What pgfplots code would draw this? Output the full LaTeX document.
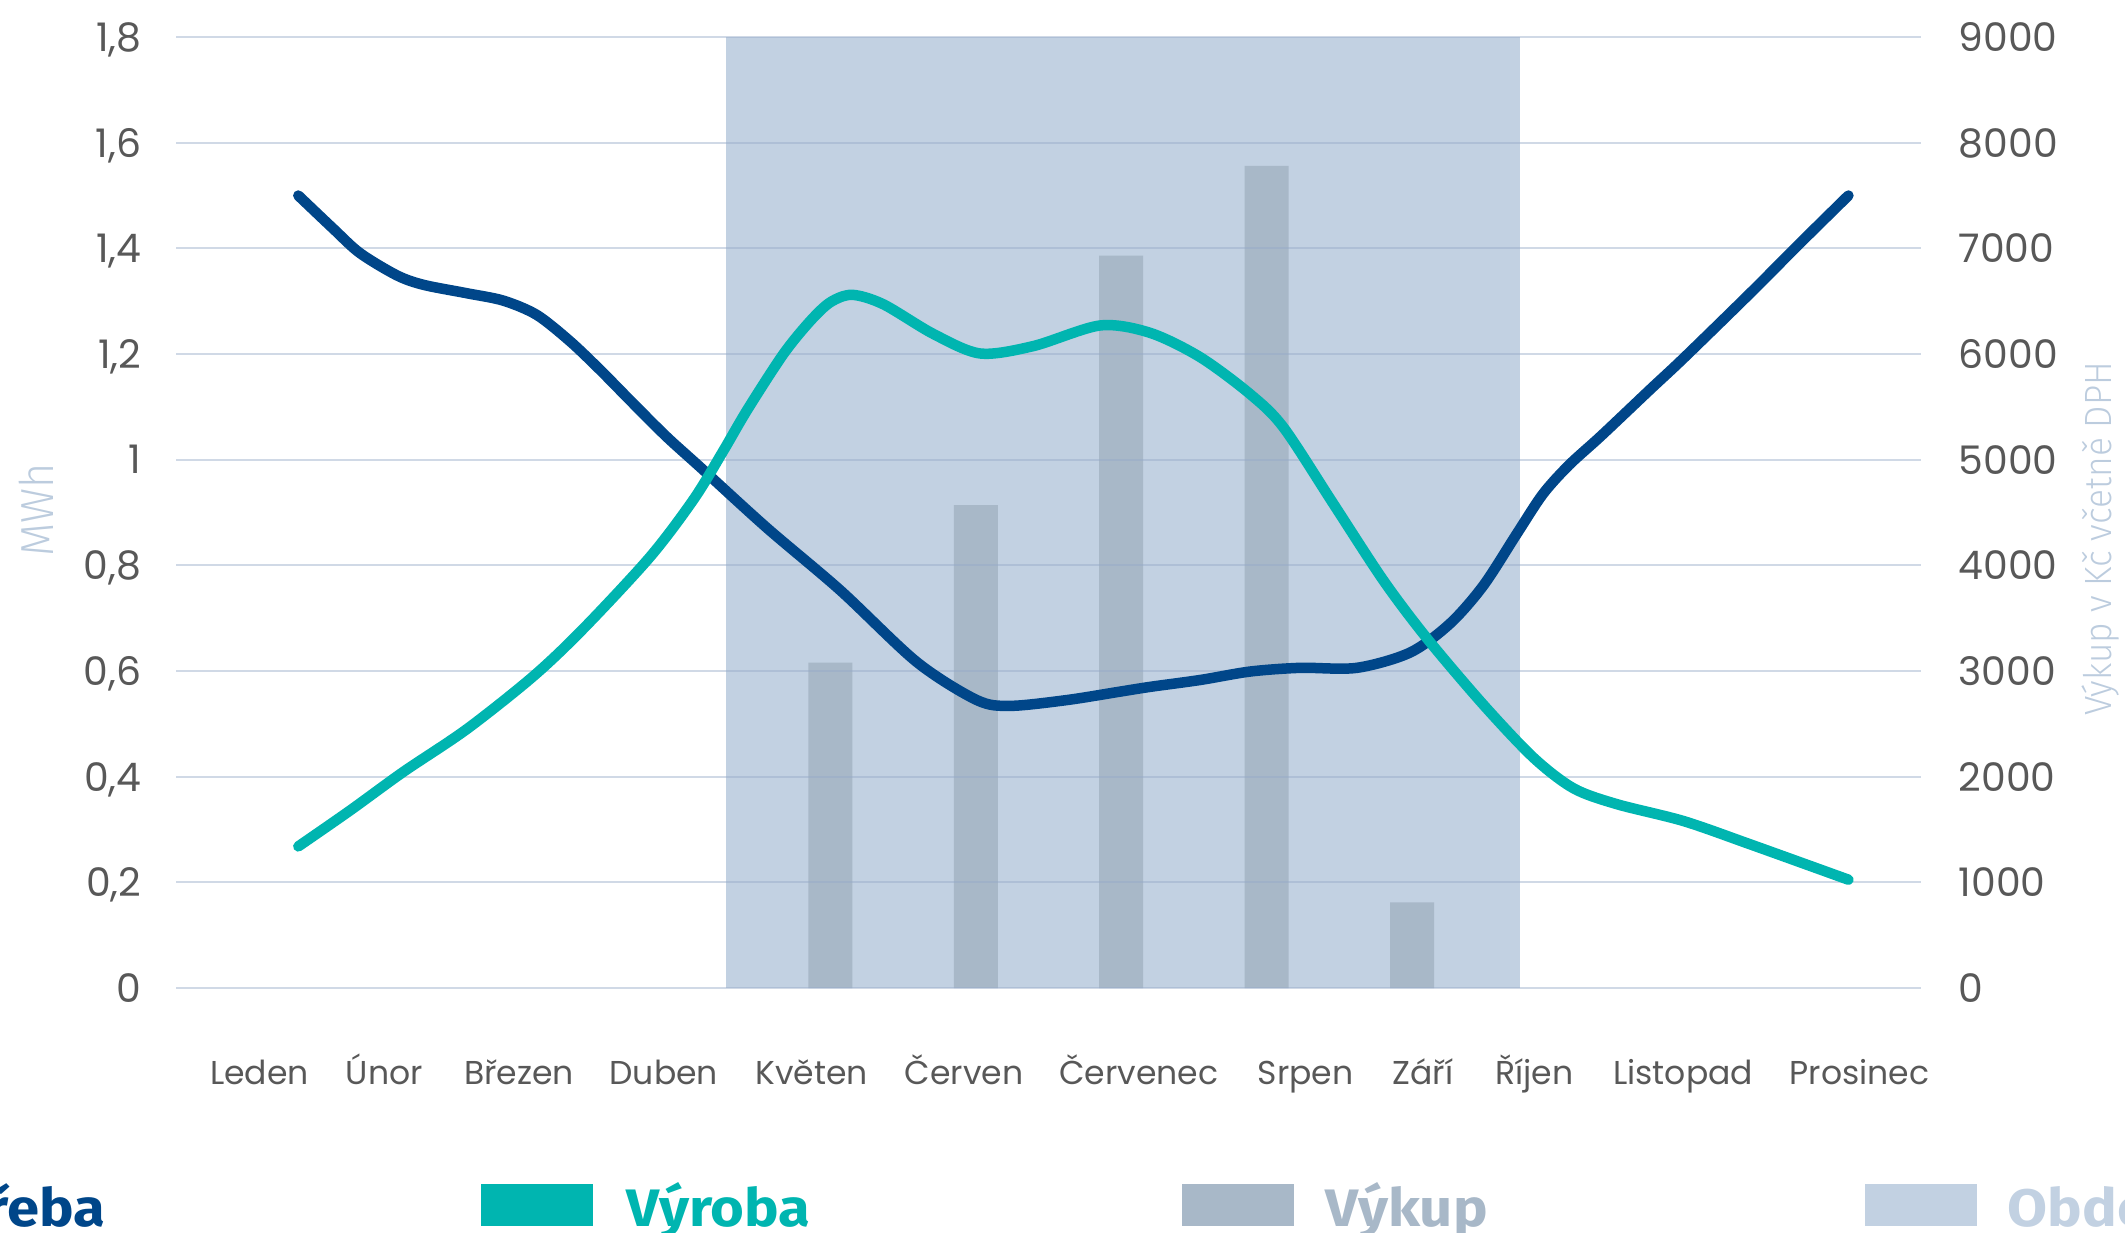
\documentclass[border=0pt]{standalone}
\usepackage{fontspec}
\setmainfont{Poppins}
\newfontfamily\titlefont[FakeStretch=0.93]{Fira Sans Light}
\newfontfamily\legfont[FakeStretch=1.1]{Fira Sans}
\usepackage{pgfplots}
\pgfplotsset{compat=1.18}

\definecolor{spot}{RGB}{0,70,137}
\definecolor{vyr}{RGB}{0,181,176}
\definecolor{vykup}{RGB}{168,184,200}
\definecolor{obd}{RGB}{194,209,226}
\definecolor{gridc}{RGB}{150,170,200}
\definecolor{tickc}{RGB}{88,88,88}
\definecolor{ttl}{RGB}{188,204,222}

\pgfplotsset{
  base/.style={
    scale only axis, width=174.5mm, height=95.1mm,
    at={(0,0)}, anchor=south west,
    xmin=0, xmax=12,
    major tick length=0pt,
    axis line style={draw=none},
    every tick label/.append style={font=\fontsize{11.2}{13}\selectfont, text=tickc, inner sep=0pt, text depth=0pt},
  }
}

\begin{document}
\begin{tikzpicture}
% right axis: summer period and purchase bars
\begin{axis}[base,
    ymin=0, ymax=9000,
    axis x line=none, axis y line*=right,
    xtick=\empty,
    ytick={0,1000,2000,3000,4000,5000,6000,7000,8000,9000},
    yticklabels={0,1000,2000,3000,4000,5000,6000,7000,8000,9000},
    yticklabel style={anchor=west, xshift=3.7mm},
  ]
  \addplot[fill=obd, draw=none] coordinates {(3.78,9000) (9.245,9000)} \closedcycle;
  \addplot[ybar, bar width=4.4mm, fill=vykup, draw=none]
    coordinates {(4.5,3080) (5.5,4570) (6.5,6930) (7.5,7780) (8.5,810)};
\end{axis}

% left axis: consumption and production
\begin{axis}[base,
    ymin=0, ymax=1.8,
    ymajorgrids,
    grid style={gridc, draw opacity=0.45, line width=0.2mm},
    ytick={0,0.2,0.4,0.6,0.8,1,1.2,1.4,1.6,1.8},
    yticklabels={0,{0,2},{0,4},{0,6},{0,8},1,{1,2},{1,4},{1,6},{1,8}},
    yticklabel style={anchor=east, xshift=-3.4mm},
    xtick={0.574,1.433,2.358,3.354,4.372,5.419,6.622,7.769,8.576,9.342,10.364,11.578},
    xticklabels={Leden,Únor,Březen,Duben,Květen,Červen,Červenec,Srpen,Září,Říjen,Listopad,Prosinec},
    xticklabel style={anchor=base, yshift=-9.6mm, font=\fontsize{9.4}{11}\selectfont, text depth=},
  ]
  \addplot[spot, line width=1.05mm, smooth, line cap=round] coordinates {
    (0.841,1.500)(1.082,1.437)(1.265,1.391)(1.518,1.349)(1.701,1.331)(2.000,1.315)
    (2.251,1.301)(2.481,1.274)(2.710,1.224)(2.916,1.170)(3.145,1.106)(3.375,1.043)
    (3.604,0.986)(4.063,0.871)(4.567,0.753)(5.094,0.617)(5.507,0.545)(5.736,0.534)
    (6.126,0.545)(6.470,0.560)(6.699,0.570)(7.043,0.583)(7.387,0.599)(7.730,0.606)
    (8.120,0.606)(8.487,0.635)(8.762,0.690)(8.991,0.762)(9.221,0.860)(9.400,0.935)
    (9.580,0.990)(9.800,1.045)(10.138,1.133)(10.367,1.192)(10.825,1.315)(11.169,1.410)
    (11.501,1.500)
  };
  \addplot[vyr, line width=1.05mm, smooth, line cap=round] coordinates {
    (0.841,0.268)(1.197,0.336)(1.563,0.409)(2.000,0.490)(2.457,0.590)(2.801,0.680)
    (3.260,0.816)(3.560,0.925)(3.760,1.015)(3.930,1.095)(4.177,1.200)(4.360,1.262)
    (4.500,1.298)(4.650,1.312)(4.865,1.294)(5.208,1.238)(5.530,1.201)(5.896,1.215)
    (6.355,1.254)(6.699,1.240)(7.043,1.194)(7.387,1.124)(7.616,1.061)(7.960,0.916)
    (8.304,0.771)(8.602,0.662)(8.991,0.536)(9.335,0.436)(9.610,0.378)(9.908,0.348)
    (10.367,0.316)(10.825,0.272)(11.501,0.205)
  };
\end{axis}

% axis titles
\node[rotate=90, text=ttl, font=\titlefont\fontsize{13.2}{15}\selectfont, inner sep=0pt] at (-14.0mm,47.8mm) {MWh};
\node[rotate=90, text=ttl, font=\titlefont\fontsize{10.8}{13}\selectfont, inner sep=0pt] at (192.5mm,44.9mm) {Výkup v Kč včetně DPH};

% legend
\begin{scope}[every node/.style={inner sep=0pt, anchor=base west, font=\legfont\bfseries\fontsize{15}{18}\selectfont}]
  \fill[spot]  (-39.5mm,-23.8mm) rectangle (-28.3mm,-19.6mm);
  \node[text=spot, anchor=base east] at (-7.0mm,-23.8mm) {Spotřeba};
  \fill[vyr]   (30.5mm,-23.8mm) rectangle (41.7mm,-19.6mm);
  \node[text=vyr] at (45.0mm,-23.8mm) {Výroba};
  \fill[vykup] (100.6mm,-23.8mm) rectangle (111.8mm,-19.6mm);
  \node[text=vykup] at (114.9mm,-23.8mm) {Výkup};
  \fill[obd]   (168.9mm,-23.8mm) rectangle (180.1mm,-19.6mm);
  \node[text=obd] at (183.1mm,-23.8mm) {Období výkupu};
\end{scope}

\pgfresetboundingbox
\path[use as bounding box] (-17.6mm,-24.4mm) rectangle (194.9mm,98.8mm);
\end{tikzpicture}
\end{document}
